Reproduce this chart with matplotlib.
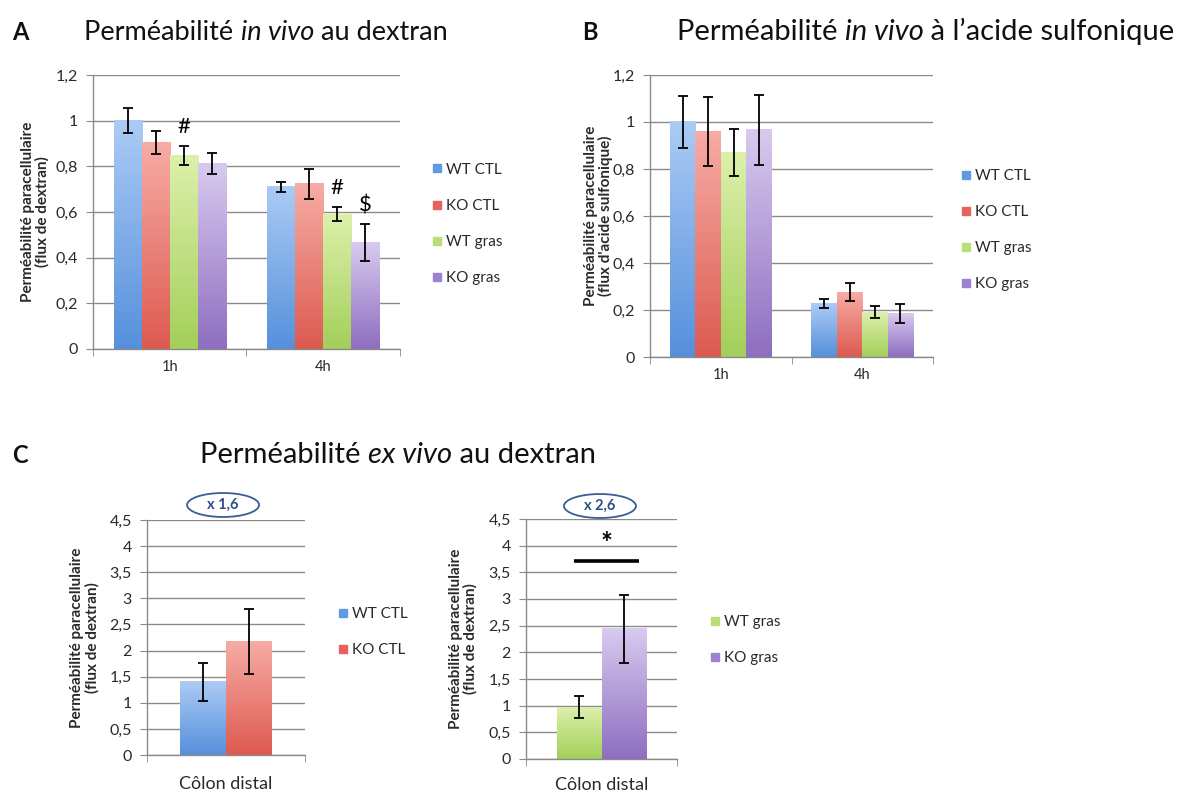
import numpy as np
import matplotlib
matplotlib.use("Agg")
import matplotlib.pyplot as plt
from matplotlib.colors import LinearSegmentedColormap
from matplotlib.lines import Line2D
from matplotlib.patches import Ellipse
from matplotlib.text import Annotation

plt.rcParams["font.family"] = ["Lato", "DejaVu Sans"]

# data
groups = ["WT CTL", "KO CTL", "WT gras", "KO gras"]
times = ["1h", "4h"]

dextran_vivo = {
    "WT CTL": [1.00, 0.71], "KO CTL": [0.905, 0.724],
    "WT gras": [0.847, 0.59], "KO gras": [0.813, 0.467]}
dextran_vivo_err = {
    "WT CTL": [0.054, 0.022], "KO CTL": [0.05, 0.065],
    "WT gras": [0.04, 0.03], "KO gras": [0.045, 0.08]}

sulfo_vivo = {
    "WT CTL": [1.00, 0.228], "KO CTL": [0.96, 0.276],
    "WT gras": [0.872, 0.191], "KO gras": [0.966, 0.184]}
sulfo_vivo_err = {
    "WT CTL": [0.11, 0.018], "KO CTL": [0.148, 0.037],
    "WT gras": [0.10, 0.026], "KO gras": [0.15, 0.041]}

ex_vivo_ctl = [1.40, 2.18]
ex_vivo_ctl_err = [0.37, 0.62]
ex_vivo_gras = [0.975, 2.44]
ex_vivo_gras_err = [0.21, 0.64]

tops = {"WT CTL": "#abcbf5", "KO CTL": "#f6aca5", "WT gras": "#ddf0ab", "KO gras": "#d8caef"}
bottoms = {"WT CTL": "#5690dc", "KO CTL": "#dd5a50", "WT gras": "#a3cf5a", "KO gras": "#8e6ec0"}
legend_col = {"WT CTL": "#609be2", "KO CTL": "#e8615c", "WT gras": "#b8df78", "KO gras": "#9d83cf"}

GRAY = "#8a8a8a"
TXT = "#2a2a2a"


def comma(v):
    return f"{v:g}".replace(".", ",")


def gradient_bars(ax, bars, top, bottom):
    cmap = LinearSegmentedColormap.from_list("g", [bottom, top])
    for b in bars:
        x0, y0, w, h = b.get_x(), b.get_y(), b.get_width(), b.get_height()
        ax.imshow(np.linspace(0, 1, 128).reshape(-1, 1), cmap=cmap, origin="lower",
                  extent=(x0, x0 + w, y0, y0 + h), aspect="auto", zorder=2)


def style_axes(ax, ymax, step, xlim, cats, catsize=10.5, catpad=8):
    ax.set_xlim(*xlim)
    ax.set_ylim(0, ymax)
    yt = np.arange(0, ymax + step / 2, step)
    ax.set_yticks(yt)
    ax.set_yticklabels([comma(round(v, 2)) for v in yt], fontsize=11.5, color=TXT)
    ax.yaxis.grid(True, color=GRAY, lw=1)
    ax.set_axisbelow(True)
    for s in ["top", "right"]:
        ax.spines[s].set_visible(False)
    for s in ["left", "bottom"]:
        ax.spines[s].set_color(GRAY)
        ax.spines[s].set_linewidth(1)
    ax.tick_params(axis="y", length=5, color=GRAY, pad=6)
    ax.set_xticks(range(len(cats)))
    ax.set_xticklabels(cats, fontsize=catsize, color=TXT)
    ax.tick_params(axis="x", length=0, pad=catpad)
    ax.set_xticks(np.arange(xlim[0], xlim[1] + 0.01, 1), minor=True)
    ax.tick_params(axis="x", which="minor", length=5, color=GRAY)


def add_legend(ax, names, x, y):
    handles = [Line2D([], [], ls="", marker="s", markersize=5.5, color=legend_col[n]) for n in names]
    ax.legend(handles, names, loc="center left", bbox_to_anchor=(x, y), frameon=False,
              handlelength=0.6, handletextpad=0.3, labelspacing=1.45, borderpad=0,
              borderaxespad=0, fontsize=11, labelcolor=TXT)


def ylabel(ax, text, x):
    ax.set_ylabel(text, fontsize=11, fontweight="bold", color=TXT, linespacing=1.05)
    ax.yaxis.set_label_coords(x, 0.5)


def grouped(ax, vals, errs, width):
    x = np.arange(len(times))
    n = len(groups)
    for i, g in enumerate(groups):
        pos = x + (i - (n - 1) / 2) * width
        bars = ax.bar(pos, vals[g], width, color="none", zorder=2)
        gradient_bars(ax, bars, tops[g], bottoms[g])
        ax.errorbar(pos, vals[g], yerr=errs[g], fmt="none", ecolor="black",
                    elinewidth=1.3, capsize=3.5, capthick=1.3, zorder=4)


def single(ax, names, vals, errs, width):
    for i, g in enumerate(names):
        pos = (i - 0.5) * width
        bars = ax.bar([pos], [vals[i]], width, color="none", zorder=2)
        gradient_bars(ax, bars, tops[g], bottoms[g])
        ax.errorbar([pos], [vals[i]], yerr=[errs[i]], fmt="none", ecolor="black",
                    elinewidth=1.3, capsize=3.5, capthick=1.3, zorder=4)


fig = plt.figure(figsize=(11.89, 7.96), dpi=100)


def chained(x, y, parts, size):
    # title with an italic piece in the middle
    t = fig.text(x, y, parts[0][0], fontsize=size, style=parts[0][1], color="#111", va="bottom")
    for txt, st in parts[1:]:
        t = fig.add_artist(Annotation(txt, xy=(1, 0), xycoords=t, fontsize=size, style=st,
                                      color="#111", va="bottom", ha="left"))


# Panel A
axA = fig.add_axes([0.0782, 0.5616, 0.2582, 0.3442])
w = 0.1825
grouped(axA, dextran_vivo, dextran_vivo_err, w)
style_axes(axA, 1.2, 0.2, (-0.5, 1.5), times)
ylabel(axA, "Perméabilité paracellulaire\n(flux de dextran)", -0.14)
add_legend(axA, groups, 1.105, 0.456)
axA.text(0 + 0.5 * w, 0.93, "#", fontsize=16, ha="center", va="bottom")
axA.text(1 + 0.5 * w, 0.66, "#", fontsize=16, ha="center", va="bottom")
axA.text(1 + 1.5 * w, 0.585, "$", fontsize=16, ha="center", va="bottom")

# Panel B
axB = fig.add_axes([0.5467, 0.5515, 0.238, 0.3543])
grouped(axB, sulfo_vivo, sulfo_vivo_err, 0.18)
style_axes(axB, 1.2, 0.2, (-0.5, 1.5), times)
ylabel(axB, "Perméabilité paracellulaire\n(flux d'acide sulfonique)", -0.13)
add_legend(axB, groups, 1.10, 0.45)

# Panel C
axC1 = fig.add_axes([0.1236, 0.0515, 0.1329, 0.2952])
single(axC1, ["WT CTL", "KO CTL"], ex_vivo_ctl, ex_vivo_ctl_err, 0.288)
style_axes(axC1, 4.5, 0.5, (-0.5, 0.5), ["Côlon distal"], catsize=13, catpad=15)
ylabel(axC1, "Perméabilité paracellulaire\n(flux de dextran)", -0.30)
add_legend(axC1, ["WT CTL", "KO CTL"], 1.21, 0.523)

axC2 = fig.add_axes([0.4424, 0.0465, 0.127, 0.3015])
single(axC2, ["WT gras", "KO gras"], ex_vivo_gras, ex_vivo_gras_err, 0.298)
style_axes(axC2, 4.5, 0.5, (-0.5, 0.5), ["Côlon distal"], catsize=13, catpad=13)
ylabel(axC2, "Perméabilité paracellulaire\n(flux de dextran)", -0.32)
add_legend(axC2, ["WT gras", "KO gras"], 1.22, 0.496)
axC2.plot([-0.18, 0.25], [3.72, 3.72], color="black", lw=2.6, zorder=5, solid_capstyle="butt")
axC2.text(0.035, 3.78, "*", fontsize=20, fontweight="bold", ha="center", va="bottom")

# fold-change ellipses
for cx, cy, lab in [(0.1876, 0.3656, "x 1,6"), (0.5046, 0.3643, "x 2,6")]:
    fig.add_artist(Ellipse((cx, cy), 72 / 1189, 24 / 796, transform=fig.transFigure,
                           facecolor="white", edgecolor="#3b5d91", lw=1.3))
    fig.text(cx, cy, lab, fontsize=10.5, fontweight="bold", color="#2d4f86",
             ha="center", va="center")

# titles and panel letters
for x, y, s in [(0.010, 0.945, "A"), (0.490, 0.945, "B"), (0.010, 0.413, "C")]:
    fig.text(x, y, s, fontsize=17, fontweight="bold", color="#111", va="bottom")
chained(0.071, 0.943, [("Perméabilité ", "normal"), ("in vivo", "italic"), (" au dextran", "normal")], 19.5)
chained(0.569, 0.943, [("Perméabilité ", "normal"), ("in vivo", "italic"),
                       (" à l\u2019acide sulfonique", "normal")], 21)
chained(0.168, 0.412, [("Perméabilité ", "normal"), ("ex vivo", "italic"), (" au dextran", "normal")], 21)

fig.savefig("out.png", dpi=100, facecolor="white")
